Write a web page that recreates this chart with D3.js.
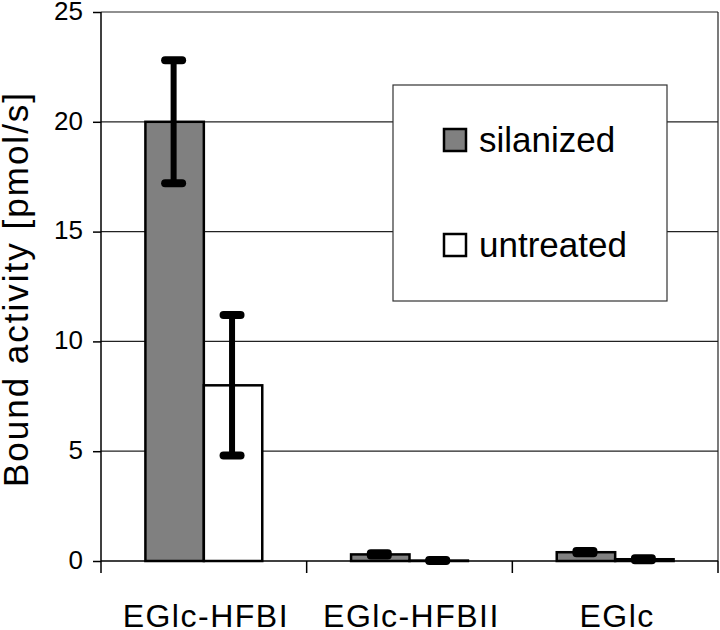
<!DOCTYPE html>
<html>
<head>
<meta charset="utf-8">
<script src="https://cdn.jsdelivr.net/npm/d3@7"></script>
<style>
  body { margin: 0; background: #fff; }
  text { font-family: "Liberation Sans", Arial, sans-serif; fill: #000; }
</style>
</head>
<body>
<svg id="chart" width="720" height="630"></svg>
<script>
var categories = ["EGlc-HFBI", "EGlc-HFBII", "EGlc"];
var series = ["silanized", "untreated"];
var silanized = [20, 0.3, 0.4];
var silanizedErr = [2.8, 0.05, 0.05];
var untreated = [8, 0.02, 0.08];
var untreatedErr = [3.2, 0.02, 0.05];
var yTicks = [0, 5, 10, 15, 20, 25];

var colors = {silanized: "#808080", untreated: "#ffffff"};

var width = 720,
    height = 630;
var margin = {top: 12, right: 2, bottom: 69, left: 101};

var svg = d3.select("#chart");

var x0 = d3.scaleBand()
    .domain(categories)
    .range([margin.left, width - margin.right])
    .padding(0);

var x1 = d3.scaleBand()
    .domain(series)
    .range([0, x0.bandwidth()])
    .paddingInner(0)
    .paddingOuter(0.76);

var y = d3.scaleLinear()
    .domain([0, 25])
    .range([height - margin.bottom, margin.top]);

var rows = categories.map(function(c, i) {
  return [
    {cat: c, key: "silanized", value: silanized[i], err: silanizedErr[i]},
    {cat: c, key: "untreated", value: untreated[i], err: untreatedErr[i]}
  ];
});

// gridlines
svg.append("g")
  .selectAll("line")
  .data(yTicks.filter(function(d) { return d > 0; }))
  .enter().append("line")
    .attr("x1", x0.range()[0])
    .attr("x2", x0.range()[1])
    .attr("y1", function(d) { return y(d); })
    .attr("y2", function(d) { return y(d); })
    .attr("stroke", "#222")
    .attr("stroke-width", 1.2);

// right border
svg.append("line")
    .attr("x1", x0.range()[1])
    .attr("x2", x0.range()[1])
    .attr("y1", y(25))
    .attr("y2", y(0))
    .attr("stroke", "#222")
    .attr("stroke-width", 1.2);

// legend box (drawn over gridlines)
var legend = svg.append("g");
legend.append("rect")
    .attr("x", 393)
    .attr("y", 85)
    .attr("width", 274)
    .attr("height", 216)
    .attr("fill", "#fff")
    .attr("stroke", "#333")
    .attr("stroke-width", 1.2);

series.forEach(function(s, i) {
  var ly = 140 + i * 105;
  legend.append("rect")
      .attr("x", 444)
      .attr("y", ly - 11)
      .attr("width", 22)
      .attr("height", 22)
      .attr("fill", colors[s])
      .attr("stroke", "#000")
      .attr("stroke-width", 2.5);
  legend.append("text")
      .attr("x", 479)
      .attr("y", ly + 12)
      .style("font-size", "35px")
      .text(s);
});

// bars
var groups = svg.append("g")
  .selectAll("g")
  .data(rows)
  .enter().append("g")
    .attr("transform", function(d) { return "translate(" + x0(d[0].cat) + ",0)"; });

groups.selectAll("rect")
  .data(function(d) { return d; })
  .enter().append("rect")
    .attr("x", function(d) { return x1(d.key); })
    .attr("y", function(d) { return y(d.value); })
    .attr("width", x1.bandwidth())
    .attr("height", function(d) { return y(0) - y(d.value); })
    .attr("fill", function(d) { return colors[d.key]; })
    .attr("stroke", "#000")
    .attr("stroke-width", 2.5);

// error bars
var err = groups.selectAll("g.err")
  .data(function(d) { return d; })
  .enter().append("g")
    .attr("class", "err")
    .attr("transform", function(d) { return "translate(" + (x1(d.key) + x1.bandwidth() / 2 - 1) + ",0)"; });

err.append("line")
    .attr("y1", function(d) { return y(d.value + d.err); })
    .attr("y2", function(d) { return y(Math.max(0, d.value - d.err)); })
    .attr("stroke", "#000")
    .attr("stroke-width", 6);

err.selectAll("line.cap")
  .data(function(d) { return [d.value + d.err, Math.max(0, d.value - d.err)]; })
  .enter().append("line")
    .attr("class", "cap")
    .attr("x1", -8.5)
    .attr("x2", 8.5)
    .attr("y1", function(v) { return y(v); })
    .attr("y2", function(v) { return y(v); })
    .attr("stroke", "#000")
    .attr("stroke-width", 8)
    .attr("stroke-linecap", "round");

// y axis
var yAxis = svg.append("g")
    .attr("transform", "translate(" + margin.left + ",0)")
    .call(d3.axisLeft(y).tickValues(yTicks).tickSize(8).tickPadding(10).tickFormat(d3.format("d")));
yAxis.select(".domain").remove();
yAxis.selectAll(".tick line").attr("stroke", "#000").attr("stroke-width", 1.5);
yAxis.selectAll(".tick text")
    .style("font-size", "26px")
    .style("font-family", "Liberation Sans, Arial, sans-serif")
    .attr("dy", "0.28em");

svg.append("line")
    .attr("x1", margin.left)
    .attr("x2", margin.left)
    .attr("y1", y(25))
    .attr("y2", y(0) + 12)
    .attr("stroke", "#000")
    .attr("stroke-width", 1.5);

// x axis
svg.append("line")
    .attr("x1", x0.range()[0])
    .attr("x2", x0.range()[1])
    .attr("y1", y(0))
    .attr("y2", y(0))
    .attr("stroke", "#000")
    .attr("stroke-width", 1.5);

var bounds = categories.map(function(c) { return x0(c); }).concat(x0.range()[1]);
svg.append("g")
  .selectAll("line")
  .data(bounds.slice(1))
  .enter().append("line")
    .attr("x1", function(d) { return d; })
    .attr("x2", function(d) { return d; })
    .attr("y1", y(0))
    .attr("y2", y(0) + 12)
    .attr("stroke", "#000")
    .attr("stroke-width", 1.5);

svg.append("g")
  .selectAll("text")
  .data(categories)
  .enter().append("text")
    .attr("x", function(d) { return x0(d) + x0.bandwidth() / 2 + 2; })
    .attr("y", 627)
    .attr("text-anchor", "middle")
    .style("font-size", "32px")
    .style("letter-spacing", "1.5px")
    .text(function(d) { return d; });

// y title
svg.append("text")
    .attr("transform", "translate(28," + 289 + ") rotate(-90)")
    .attr("text-anchor", "middle")
    .style("font-size", "35px")
    .style("letter-spacing", "2px")
    .text("Bound activity [pmol/s]");
</script>
</body>
</html>
